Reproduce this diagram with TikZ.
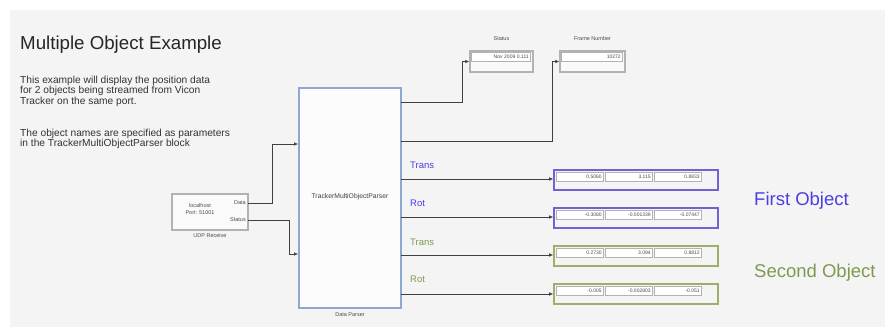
\documentclass[tikz,border=0pt]{standalone}
\usepackage{fontspec}
\setmainfont{Liberation Sans}
\usetikzlibrary{arrows.meta}
\definecolor{bg}{HTML}{F4F4F4}
\definecolor{objblue}{HTML}{4A3FE0}
\definecolor{boxblue}{HTML}{6E62D6}
\definecolor{objgreen}{HTML}{7E9A50}
\definecolor{boxgreen}{HTML}{9CB06C}
\definecolor{parserline}{HTML}{8FA8D0}
\tikzset{
 wire/.style={draw=black!75, line width=0.6pt},
 arr/.style={wire, -{Latex[length=4pt,width=3.5pt]}},
 blk/.style={draw=gray!60, fill=white!96!gray, line width=1.4pt, inner sep=0pt},
 field/.style={draw=gray!60, fill=white, line width=0.9pt, minimum height=9pt, inner sep=2pt, font=\fontsize{5}{5}\selectfont, text=black!70, align=right, anchor=north west},
 tinytxt/.style={font=\fontsize{5.5}{6}\selectfont, text=black!70, inner sep=0pt},
 sig/.style={font=\fontsize{9.5}{10}\selectfont, anchor=base west, inner sep=0pt},
 para/.style={font=\fontsize{10.2}{10.7}\selectfont, text=black!80, anchor=base west, inner sep=0pt},
 dispbox/.style={fill=bg, line width=1.6pt, minimum width=164pt, minimum height=20pt, inner sep=0pt},
}
\begin{document}
\begin{tikzpicture}[x=1pt,y=-1pt]
\useasboundingbox (0,0) rectangle (893,333);
\fill[white] (0,0) rectangle (893,333);
\fill[bg] (10,10) rectangle (885,327);

% title and description
\node[anchor=base west, inner sep=0pt, font=\fontsize{18.7}{20}\selectfont, text=black!85] (title) at (20,49) {Multiple Object Example};
\node[para] (p1) at (20,83) {This example will display the position data};
\node[para] (p2) at (20,93.7) {for 2 objects being streamed from Vicon};
\node[para] (p3) at (20,104.4) {Tracker on the same port.};
\node[para] (p4) at (20,136) {The object names are specified as parameters};
\node[para] (p5) at (20,146.7) {in the TrackerMultiObjectParser block};

% UDP receive block
\node[blk, minimum width=76pt, minimum height=36pt] (udp) at (210,212) {};
\node[tinytxt, align=center] (udptxt) at (200,209) {localhost\\[0.5pt]Port: 51001};
\node[tinytxt, anchor=east] (udpdata) at (246,203) {Data};
\node[tinytxt, anchor=east] (udpstatus) at (246,220) {Status};
\node[tinytxt] (udplbl) at (210,236) {UDP Receive};

% parser block
\node[draw=parserline, fill=white!98!gray, line width=1.8pt, minimum width=102pt, minimum height=220pt, inner sep=0pt] (parser) at (350,198) {};
\node[font=\fontsize{6.8}{7}\selectfont, text=black!75, inner sep=0pt] (ptxt) at (350,197) {TrackerMultiObjectParser};
\node[tinytxt] (plbl) at (350,315) {Data Parser};

% status / frame displays
\node[blk, minimum width=63pt, minimum height=21pt] (st) at (501.5,61.5) {};
\node[field, text width=55pt] (stf) at ([shift={(2,2)}]st.north west) {Nov 2009 0.111};
\node[tinytxt] (stl) at (501.5,39) {Status};
\node[blk, minimum width=65pt, minimum height=21pt] (fr) at (592.5,61.5) {};
\node[field, text width=57pt] (frf) at ([shift={(2,2)}]fr.north west) {10272};
\node[tinytxt] (frl) at (592.5,39) {Frame Number};

% object displays
\node[dispbox, draw=boxblue] (d1) at (636,180) {};
\node[dispbox, draw=boxblue] (d2) at (636,218) {};
\node[dispbox, draw=boxgreen] (d3) at (636,256) {};
\node[dispbox, draw=boxgreen] (d4) at (636,294) {};
\foreach \d/\a/\b/\c in {d1/0.5060/3.115/0.8833, d2/-0.3080/-0.001339/-0.07447, d3/0.2730/3.094/0.8812, d4/-0.005/-0.002803/-0.051}{
  \node[field, text width=43pt] (\d a) at ([shift={(3,2.5)}]\d.north west) {\a};
  \node[field, text width=43pt] (\d b) at ([shift={(52,2.5)}]\d.north west) {\b};
  \node[field, text width=43pt] (\d c) at ([shift={(101,2.5)}]\d.north west) {\c};
}

% signal labels
\node[sig, text=objblue] (l1) at (410,168) {Trans};
\node[sig, text=objblue] (l2) at (410,206) {Rot};
\node[sig, text=objgreen] (l3) at (410,245) {Trans};
\node[sig, text=objgreen] (l4) at (410,282) {Rot};

\node[anchor=base west, inner sep=0pt, font=\fontsize{18.5}{20}\selectfont, text=objblue] (first) at (754,205) {First Object};
\node[anchor=base west, inner sep=0pt, font=\fontsize{18.5}{20}\selectfont, text=objgreen] (second) at (754,277) {Second Object};

% port coordinates
\coordinate (udpD) at (248,203);
\coordinate (udpS) at (248,220);
\coordinate (pin1) at (299,144);
\coordinate (pin2) at (299,254);
\coordinate (o1) at (401,102);
\coordinate (o2) at (401,141);
\coordinate (o3) at (401,179);
\coordinate (o4) at (401,217);
\coordinate (o5) at (401,255);
\coordinate (o6) at (401,294);

% connectors
\draw[arr] (udpD) -- (272,203) |- (parser.west |- pin1);
\draw[arr] (udpS) -- (289,220) |- (parser.west |- pin2);
\draw[arr] (o1) -- (462,102) |- (st.west);
\draw[arr] (o2) -- (552,141) |- (fr.west);
\draw[arr] (o3) -- (d1.west |- o3);
\draw[arr] (o4) -- (d2.west |- o4);
\draw[arr] (o5) -- (d3.west |- o5);
\draw[arr] (o6) -- (d4.west |- o6);
\end{tikzpicture}
\end{document}
